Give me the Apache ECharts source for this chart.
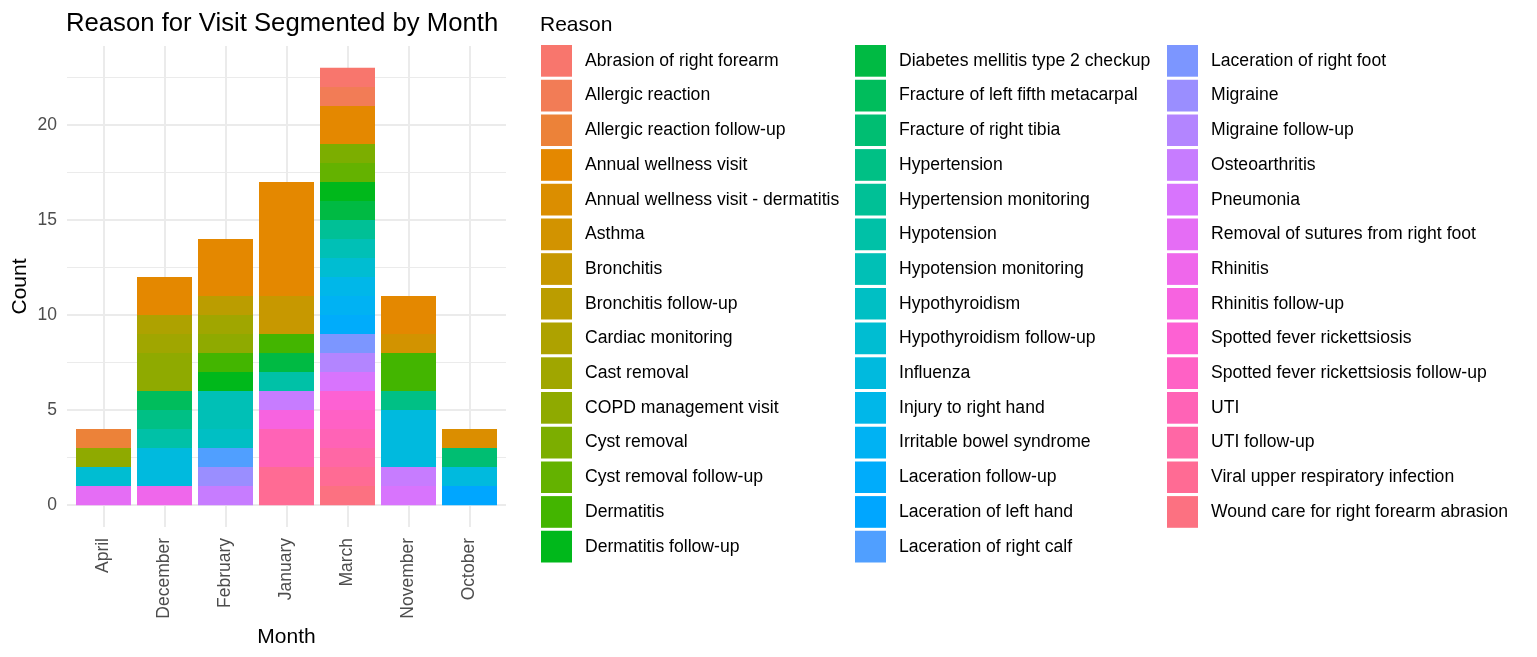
<!DOCTYPE html>
<html>
<head>
<meta charset="utf-8">
<title>Reason for Visit Segmented by Month</title>
<script src="https://cdn.jsdelivr.net/npm/echarts@6.0.0/dist/echarts.min.js"></script>
<style>
    html, body { margin: 0; padding: 0; background: #fff; }
    #chart { width: 1537px; height: 657px; }
</style>
</head>
<body>
<div id="chart"></div>
<script>
// 月份（x轴顺序，按字母排）
var months = ["April", "December", "February", "January", "March", "November", "October"];

// 就诊原因（图例顺序）
var reasons = [
    "Abrasion of right forearm", "Allergic reaction", "Allergic reaction follow-up",
    "Annual wellness visit", "Annual wellness visit - dermatitis", "Asthma",
    "Bronchitis", "Bronchitis follow-up", "Cardiac monitoring", "Cast removal",
    "COPD management visit", "Cyst removal", "Cyst removal follow-up", "Dermatitis",
    "Dermatitis follow-up", "Diabetes mellitis type 2 checkup",
    "Fracture of left fifth metacarpal", "Fracture of right tibia", "Hypertension",
    "Hypertension monitoring", "Hypotension", "Hypotension monitoring", "Hypothyroidism",
    "Hypothyroidism follow-up", "Influenza", "Injury to right hand",
    "Irritable bowel syndrome", "Laceration follow-up", "Laceration of left hand",
    "Laceration of right calf", "Laceration of right foot", "Migraine",
    "Migraine follow-up", "Osteoarthritis", "Pneumonia",
    "Removal of sutures from right foot", "Rhinitis", "Rhinitis follow-up",
    "Spotted fever rickettsiosis", "Spotted fever rickettsiosis follow-up", "UTI",
    "UTI follow-up", "Viral upper respiratory infection",
    "Wound care for right forearm abrasion"
];

// 每个原因在各月的次数（列顺序同 months）
var counts = [
    [0, 0, 0, 0, 1, 0, 0],  // Abrasion of right forearm
    [0, 0, 0, 0, 1, 0, 0],  // Allergic reaction
    [1, 0, 0, 0, 0, 0, 0],  // Allergic reaction follow-up
    [0, 2, 3, 6, 2, 2, 0],  // Annual wellness visit
    [0, 0, 0, 0, 0, 0, 1],  // Annual wellness visit - dermatitis
    [0, 0, 0, 0, 0, 1, 0],  // Asthma
    [0, 0, 0, 2, 0, 0, 0],  // Bronchitis
    [0, 0, 1, 0, 0, 0, 0],  // Bronchitis follow-up
    [0, 1, 0, 0, 0, 0, 0],  // Cardiac monitoring
    [0, 1, 1, 0, 0, 0, 0],  // Cast removal
    [1, 2, 1, 0, 0, 0, 0],  // COPD management visit
    [0, 0, 0, 0, 1, 0, 0],  // Cyst removal
    [0, 0, 0, 0, 1, 0, 0],  // Cyst removal follow-up
    [0, 0, 1, 1, 0, 2, 0],  // Dermatitis
    [0, 0, 1, 0, 1, 0, 0],  // Dermatitis follow-up
    [0, 0, 0, 1, 1, 0, 0],  // Diabetes mellitis type 2 checkup
    [0, 1, 0, 0, 0, 0, 0],  // Fracture of left fifth metacarpal
    [0, 0, 0, 0, 0, 0, 1],  // Fracture of right tibia
    [0, 1, 0, 0, 0, 1, 0],  // Hypertension
    [0, 0, 0, 0, 1, 0, 0],  // Hypertension monitoring
    [0, 1, 0, 1, 0, 0, 0],  // Hypotension
    [0, 0, 2, 0, 1, 0, 0],  // Hypotension monitoring
    [0, 0, 1, 0, 0, 0, 0],  // Hypothyroidism
    [1, 0, 0, 0, 1, 0, 0],  // Hypothyroidism follow-up
    [0, 2, 0, 0, 0, 3, 1],  // Influenza
    [0, 0, 0, 0, 1, 0, 0],  // Injury to right hand
    [0, 0, 0, 0, 1, 0, 0],  // Irritable bowel syndrome
    [0, 0, 0, 0, 1, 0, 0],  // Laceration follow-up
    [0, 0, 0, 0, 0, 0, 1],  // Laceration of left hand
    [0, 0, 1, 0, 0, 0, 0],  // Laceration of right calf
    [0, 0, 0, 0, 1, 0, 0],  // Laceration of right foot
    [0, 0, 1, 0, 0, 0, 0],  // Migraine
    [0, 0, 0, 0, 1, 0, 0],  // Migraine follow-up
    [0, 0, 1, 1, 0, 1, 0],  // Osteoarthritis
    [0, 0, 0, 0, 1, 1, 0],  // Pneumonia
    [1, 0, 0, 0, 0, 0, 0],  // Removal of sutures from right foot
    [0, 1, 0, 0, 0, 0, 0],  // Rhinitis
    [0, 0, 0, 1, 0, 0, 0],  // Rhinitis follow-up
    [0, 0, 0, 0, 1, 0, 0],  // Spotted fever rickettsiosis
    [0, 0, 0, 0, 1, 0, 0],  // Spotted fever rickettsiosis follow-up
    [0, 0, 0, 2, 1, 0, 0],  // UTI
    [0, 0, 0, 0, 1, 0, 0],  // UTI follow-up
    [0, 0, 0, 2, 1, 0, 0],  // Viral upper respiratory infection
    [0, 0, 0, 0, 1, 0, 0]   // Wound care for right forearm abrasion
];

var FONT = '"Liberation Sans", Arial, sans-serif';

// ggplot 默认色盘 hcl(h, c=100, l=65)
function hclHex(h, c, l) {
    var WX = 95.047, WY = 100.0, WZ = 108.883;
    var den = WX + 15 * WY + 3 * WZ;
    var un = 4 * WX / den, vn = 9 * WY / den;
    var hr = h * Math.PI / 180;
    var U = c * Math.cos(hr), V = c * Math.sin(hr);
    var Y = WY * (l > 7.999592 ? Math.pow((l + 16) / 116, 3) : l / 903.3);
    var u = U / (13 * l) + un, v = V / (13 * l) + vn;
    var X = 9 * Y * u / (4 * v);
    var Z = -X / 3 - 5 * Y + 3 * Y / v;
    function gam(t) {
        return t > 0.0031308 ? 1.055 * Math.pow(t, 1 / 2.4) - 0.055 : 12.92 * t;
    }
    var rgb = [
        3.240479 * X - 1.537150 * Y - 0.498535 * Z,
        -0.969256 * X + 1.875992 * Y + 0.041556 * Z,
        0.055648 * X - 0.204043 * Y + 1.057311 * Z
    ].map(function (t) {
        return Math.round(255 * Math.min(1, Math.max(0, gam(t / 100))));
    });
    return '#' + rgb.map(function (n) { return n.toString(16).padStart(2, '0'); }).join('');
}

var colors = reasons.map(function (r, i) {
    return hclHex(15 + i * 360 / reasons.length, 100, 65);
});

// 第一个因子在最上面，所以倒着堆
var series = reasons.map(function (name, i) {
    return {
        name: name,
        type: 'bar',
        stack: 'visits',
        xAxisIndex: 2,
        yAxisIndex: 2,
        barWidth: 55,
        clip: false,
        itemStyle: { color: colors[i] },
        emphasis: { disabled: true },
        data: counts[i]
    };
}).reverse();

var legendBase = {
    orient: 'vertical',
    top: 45,
    padding: 0,
    itemWidth: 31,
    itemHeight: 31.7,
    itemGap: 3,
    icon: 'rect',
    selectedMode: false,
    textStyle: { fontSize: 17.6, color: '#000', fontFamily: FONT, padding: [5, 0, 0, 8] }
};

var myChart = echarts.init(document.getElementById('chart'));

var option = {
    animation: false,
    textStyle: { fontFamily: FONT },
    title: [{
        text: 'Reason for Visit Segmented by Month',
        left: 66,
        top: 11,
        padding: 0,
        textStyle: { fontSize: 25.7, fontWeight: 'normal', color: '#000', fontFamily: FONT }
    }, {
        text: 'Reason',
        left: 540,
        top: 15,
        padding: 0,
        textStyle: { fontSize: 21, fontWeight: 'normal', color: '#000', fontFamily: FONT }
    }],
    legend: [
        Object.assign({}, legendBase, { left: 541, data: reasons.slice(0, 15) }),
        Object.assign({}, legendBase, { left: 855, data: reasons.slice(15, 30) }),
        Object.assign({}, legendBase, { left: 1167, data: reasons.slice(30) })
    ],
    grid: [
        /*次网格线 2.5 一条*/
        { left: 67, top: 77.5, width: 439, height: 427.5, outerBoundsMode: 'none', containLabel: false },
        /*主网格线 + y轴刻度*/
        { left: 67, top: 125, width: 439, height: 380, outerBoundsMode: 'none', containLabel: false },
        /*柱子*/
        { left: 103.5, top: 46, width: 366, height: 481, outerBoundsMode: 'none', containLabel: false }
    ],
    xAxis: [
        { gridIndex: 0, type: 'value', show: false, min: 0, max: 1 },
        { gridIndex: 1, type: 'value', show: false, min: 0, max: 1 },
        {
            gridIndex: 2,
            type: 'category',
            data: months,
            boundaryGap: false,
            axisLine: { show: false },
            axisTick: { show: false },
            axisLabel: { rotate: 90, interval: 0, color: '#4D4D4D', fontSize: 17.5, margin: 11 },
            splitLine: { show: true, interval: 0, lineStyle: { color: '#EBEBEB', width: 2 } },
            name: 'Month',
            nameLocation: 'middle',
            nameGap: 97,
            nameTextStyle: { fontSize: 21, color: '#000' }
        }
    ],
    yAxis: [
        {
            gridIndex: 0, type: 'value', min: 0, max: 22.5, interval: 2.5,
            axisLine: { show: false }, axisTick: { show: false }, axisLabel: { show: false },
            splitLine: { show: true, lineStyle: { color: '#EBEBEB', width: 1 } }
        },
        {
            gridIndex: 1, type: 'value', min: 0, max: 20, interval: 5,
            axisLine: { show: false }, axisTick: { show: false },
            axisLabel: { color: '#4D4D4D', fontSize: 17.5, margin: 10 },
            splitLine: { show: true, lineStyle: { color: '#EBEBEB', width: 2 } }
        },
        {
            gridIndex: 2, type: 'value', min: -1.15, max: 24.15,
            axisLine: { show: false }, axisTick: { show: false }, axisLabel: { show: false },
            splitLine: { show: false },
            name: 'Count',
            nameLocation: 'middle',
            nameGap: 73,
            nameTextStyle: { fontSize: 21, color: '#000' }
        }
    ],
    series: series
};

myChart.setOption(option);
</script>
</body>
</html>
